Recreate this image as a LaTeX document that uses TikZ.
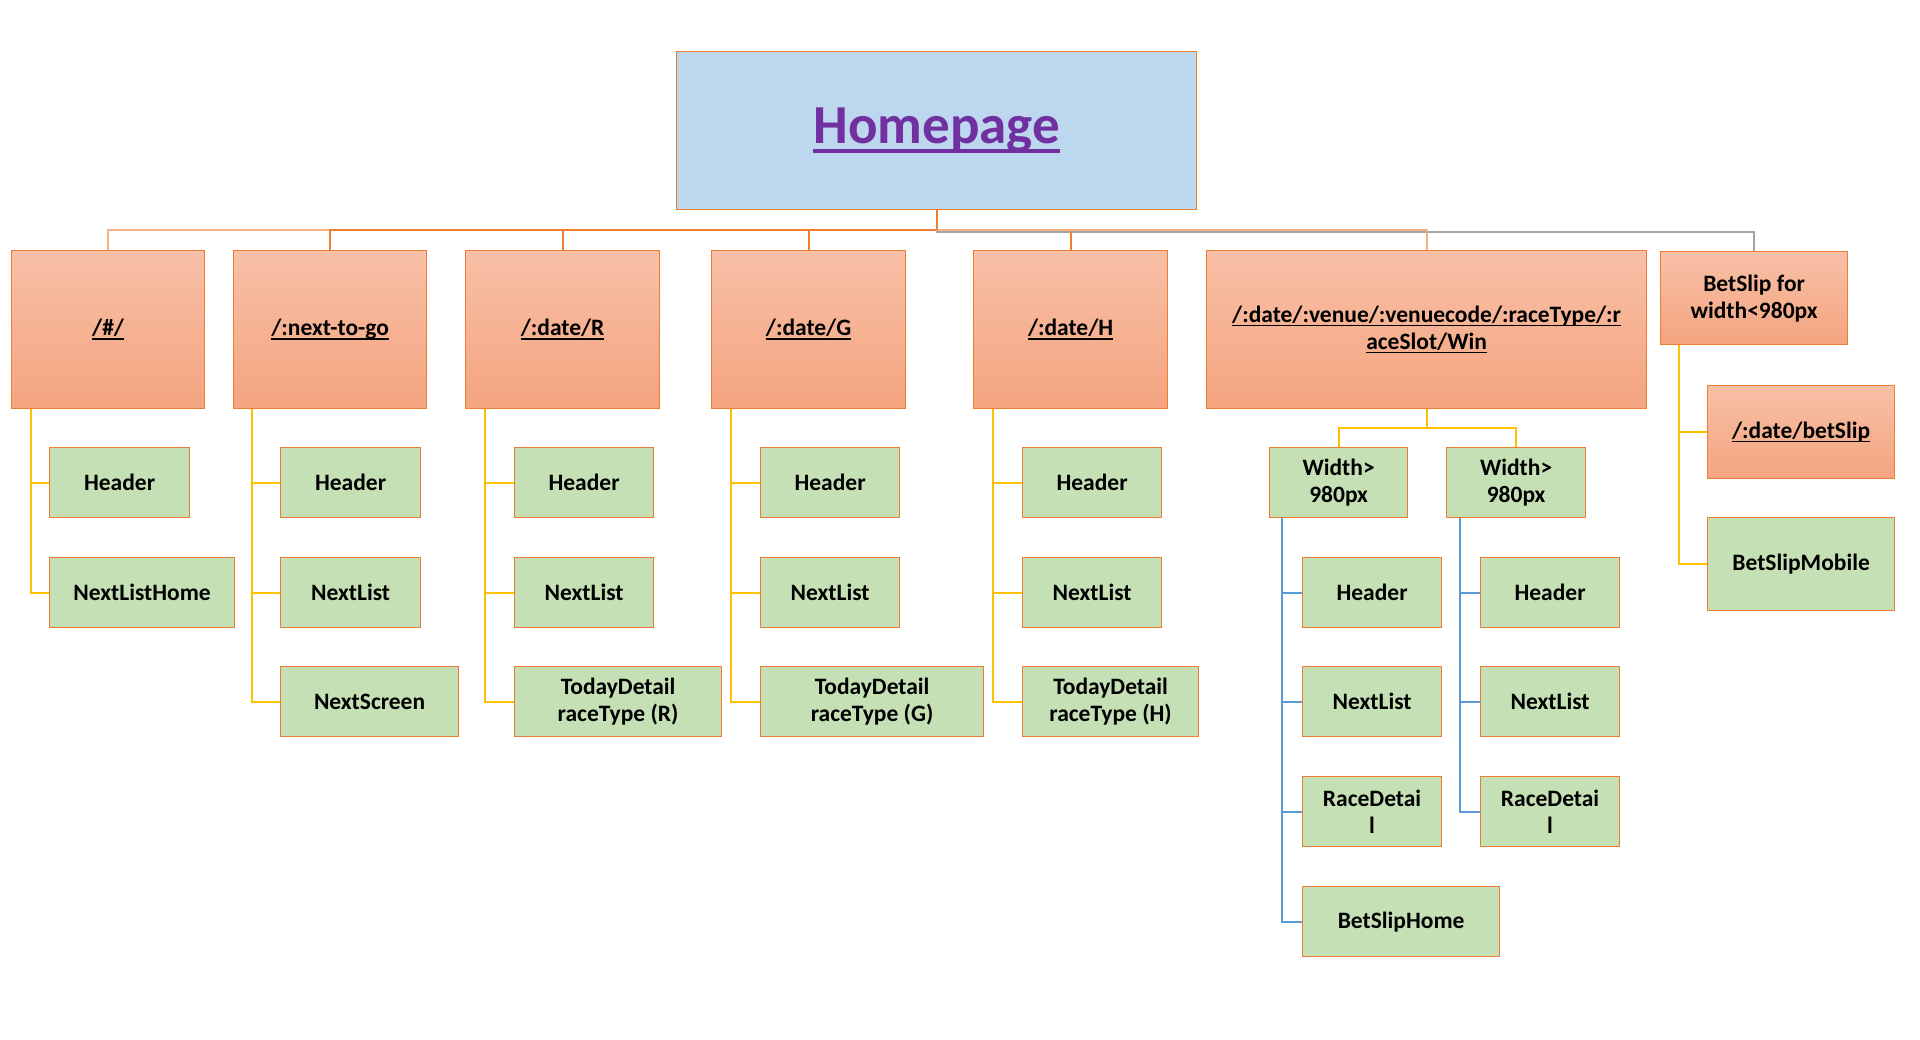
\documentclass[tikz,border=0pt]{standalone}
\usepackage{fontspec}
\setmainfont{Carlito}
\usepackage{tikz}
\definecolor{borange}{HTML}{ED7D31}
\definecolor{lorange}{HTML}{F4B183}
\definecolor{homeblue}{HTML}{BDD7EE}
\definecolor{homepurple}{HTML}{7030A0}
\definecolor{routetop}{HTML}{F8C0A7}
\definecolor{routebot}{HTML}{F4A47F}
\definecolor{pagegreen}{HTML}{C5E0B4}
\definecolor{lyellow}{HTML}{FFC000}
\definecolor{lblue}{HTML}{5B9BD5}
\definecolor{lgray}{HTML}{A5A5A5}
\newcommand{\urlpart}[1]{\setbox0\hbox{#1}\rlap{\rule[-0.16em]{\wd0}{0.07em}}\box0}
\tikzstyle{route} = [rectangle, draw=borange, line width=1.2pt, top color=routetop, bottom color=routebot, inner sep=0pt, anchor=north west, align=center, font=\bfseries\fontsize{23.5}{27}\selectfont]
\tikzstyle{page} = [rectangle, draw=borange, line width=1.2pt, fill=pagegreen, inner sep=0pt, anchor=north west, minimum width=139pt, minimum height=70pt, align=center, font=\bfseries\fontsize{23.5}{27}\selectfont]
\tikzstyle{oline} = [draw=borange, line width=1.8pt]
\tikzstyle{yline} = [draw=lyellow, line width=2pt]
\tikzstyle{bline} = [draw=lblue, line width=2pt]
\tikzstyle{gline} = [draw=lgray, line width=2pt]

\begin{document}
\begin{tikzpicture}[x=1pt, y=-1pt]
    \useasboundingbox (0,0) rectangle (1920,1039);

    \node (home) [rectangle, draw=borange, line width=1.2pt, fill=homeblue, anchor=north west, minimum width=520pt, minimum height=158pt, inner sep=0pt, text=homepurple, font=\bfseries\fontsize{55}{60}\selectfont] at (676,51) {\urlpart{Homepage}};

    \node (hash) [route, minimum width=193pt, minimum height=158pt] at (11,250) {\urlpart{/\#/}};
    \node (nexttogo) [route, minimum width=193pt, minimum height=158pt] at (233,250) {\urlpart{/:next-to-go}};
    \node (dateR) [route, minimum width=194pt, minimum height=158pt] at (465,250) {\urlpart{/:date/R}};
    \node (dateG) [route, minimum width=194pt, minimum height=158pt] at (711,250) {\urlpart{/:date/G}};
    \node (dateH) [route, minimum width=194pt, minimum height=158pt] at (973,250) {\urlpart{/:date/H}};
    \node (race) [route, minimum width=440pt, minimum height=158pt] at (1206,250) {\urlpart{/:date/:venue/:venuecode/:raceType/:r}\\\urlpart{aceSlot/Win}};
    \node (betslip) [route, minimum width=187pt, minimum height=93pt] at (1660,251) {BetSlip for\\width<980px};

    \draw[gline] (home.south) -- ++(0,22) -| (betslip.north);
    \draw[draw=lorange, line width=1.8pt] (home.south) -- ++(0,20) -| (hash.north);
    \draw[oline] (home.south) -- ++(0,20) -| (nexttogo.north);
    \draw[oline] (home.south) -- ++(0,20) -| (dateR.north);
    \draw[oline] (home.south) -- ++(0,20) -| (dateG.north);
    \draw[oline] (home.south) -- ++(0,20) -| (dateH.north);
    \draw[draw=lorange, line width=1.8pt] (home.south) -- ++(0,20) -| (race.north);
    \draw[oline] (home.south) -- ++(0,20);

    \node (hashHeader) [page, minimum width=140pt] at (49,447) {Header};
    \node (hashList) [page, minimum width=185pt] at (49,557) {NextListHome};
    \draw[yline] ([xshift=20pt]hash.south west) |- (hashHeader.west);
    \draw[yline] ([xshift=20pt]hash.south west) |- (hashList.west);

    \node (ntgHeader) [page, minimum width=140pt] at (280,447) {Header};
    \node (ntgList) [page, minimum width=140pt] at (280,557) {NextList};
    \node (ntgScreen) [page, minimum width=178pt] at (280,666) {NextScreen};
    \draw[yline] ([xshift=19pt]nexttogo.south west) |- (ntgHeader.west);
    \draw[yline] ([xshift=19pt]nexttogo.south west) |- (ntgList.west);
    \draw[yline] ([xshift=19pt]nexttogo.south west) |- (ntgScreen.west);

    \node (rHeader) [page] at (514,447) {Header};
    \node (rList) [page] at (514,557) {NextList};
    \node (rToday) [page, minimum width=207pt] at (514,666) {TodayDetail\\raceType (R)};
    \draw[yline] ([xshift=20pt]dateR.south west) |- (rHeader.west);
    \draw[yline] ([xshift=20pt]dateR.south west) |- (rList.west);
    \draw[yline] ([xshift=20pt]dateR.south west) |- (rToday.west);

    \node (gHeader) [page] at (760,447) {Header};
    \node (gList) [page] at (760,557) {NextList};
    \node (gToday) [page, minimum width=223pt] at (760,666) {TodayDetail\\raceType (G)};
    \draw[yline] ([xshift=20pt]dateG.south west) |- (gHeader.west);
    \draw[yline] ([xshift=20pt]dateG.south west) |- (gList.west);
    \draw[yline] ([xshift=20pt]dateG.south west) |- (gToday.west);

    \node (hHeader) [page] at (1022,447) {Header};
    \node (hList) [page] at (1022,557) {NextList};
    \node (hToday) [page, minimum width=176pt] at (1022,666) {TodayDetail\\raceType (H)};
    \draw[yline] ([xshift=20pt]dateH.south west) |- (hHeader.west);
    \draw[yline] ([xshift=20pt]dateH.south west) |- (hList.west);
    \draw[yline] ([xshift=20pt]dateH.south west) |- (hToday.west);

    \node (wideA) [page, minimum width=138pt] at (1269,447) {Width>\\980px};
    \node (wideB) [page] at (1446,447) {Width>\\980px};
    \draw[yline] (race.south) -- ++(0,19) -| (wideA.north);
    \draw[yline] (race.south) -- ++(0,19) -| (wideB.north);

    \node (wideAHeader) [page] at (1302,557) {Header};
    \node (wideAList) [page] at (1302,666) {NextList};
    \node (wideARace) [page] at (1302,776) {RaceDetai\\l};
    \node (wideABetSlip) [page, minimum width=197pt] at (1302,886) {BetSlipHome};
    \draw[bline] ([xshift=13pt]wideA.south west) |- (wideAHeader.west);
    \draw[bline] ([xshift=13pt]wideA.south west) |- (wideAList.west);
    \draw[bline] ([xshift=13pt]wideA.south west) |- (wideARace.west);
    \draw[bline] ([xshift=13pt]wideA.south west) |- (wideABetSlip.west);

    \node (wideBHeader) [page] at (1480,557) {Header};
    \node (wideBList) [page] at (1480,666) {NextList};
    \node (wideBRace) [page] at (1480,776) {RaceDetai\\l};
    \draw[bline] ([xshift=14pt]wideB.south west) |- (wideBHeader.west);
    \draw[bline] ([xshift=14pt]wideB.south west) |- (wideBList.west);
    \draw[bline] ([xshift=14pt]wideB.south west) |- (wideBRace.west);

    \node (betslipRoute) [route, minimum width=187pt, minimum height=93pt] at (1707,385) {\urlpart{/:date/betSlip}};
    \node (betslipMobile) [page, minimum width=187pt, minimum height=93pt] at (1707,517) {BetSlipMobile};
    \draw[yline] ([xshift=19pt]betslip.south west) |- (betslipRoute.west);
    \draw[yline] ([xshift=19pt]betslip.south west) |- (betslipMobile.west);

\end{tikzpicture}
\end{document}
